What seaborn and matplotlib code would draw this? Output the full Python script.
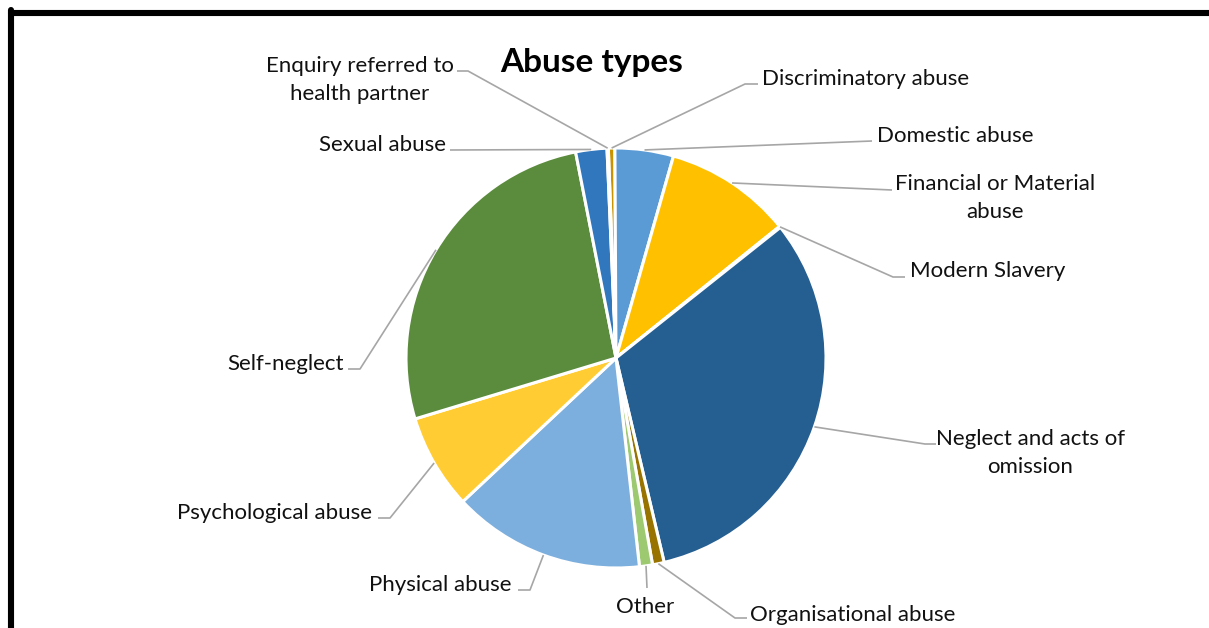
import matplotlib
matplotlib.use("Agg")
import matplotlib.pyplot as plt
import seaborn as sns
import numpy as np
from matplotlib.lines import Line2D

# data (order as in the source sheet, drawn clockwise)
categories = ["Discriminatory abuse", "Domestic abuse", "Financial or Material abuse",
              "Modern Slavery", "Neglect and acts of omission", "Organisational abuse",
              "Other", "Physical abuse", "Psychological abuse", "Self-neglect",
              "Sexual abuse", "Enquiry referred to health partner"]
counts = [5, 45, 98, 1, 320, 9, 10, 148, 73, 266, 24, 1]
label_lines = [["Discriminatory abuse"], ["Domestic abuse"], ["Financial or Material", "abuse"],
               ["Modern Slavery"], ["Neglect and acts of", "omission"], ["Organisational abuse"],
               ["Other"], ["Physical abuse"], ["Psychological abuse"], ["Self-neglect"],
               ["Sexual abuse"], ["Enquiry referred to", "health partner"]]
slice_colors = ["#C99400", "#5B9BD5", "#FFC000", "#A5A5A5", "#255E91", "#997300",
                "#9DC971", "#7CAFDD", "#FFCD33", "#5B8B3C", "#3077BE", "#4472C4"]

# layout in pixels: label anchor (x, baseline y, ha) and leader path after the slice edge
W, H = 1209, 628
CX, CY, R = 616, 358, 210
layout = [
    ((762, 85, "left"), [(745, 84), (758, 84)]),
    ((877, 142, "left"), [(872, 141)]),
    ((995, 190, "center"), [(892, 190)]),
    ((910, 277, "left"), [(893, 277), (905, 277)]),
    ((1030, 445, "center"), [(925, 444), (936, 444)]),
    ((750, 621, "left"), [(735, 618), (747, 618)]),
    ((645, 613, "center"), [(647, 588)]),
    ((512, 591, "right"), [(530, 590), (518, 590)]),
    ((372, 519, "right"), [(390, 518), (378, 518)]),
    ((344, 370, "right"), [(360, 369), (348, 369)]),
    ((446, 151, "right"), [(450, 150)]),
    ((360, 72, "center"), [(468, 71), (457, 71)]),
]
line_gap = 28


def to_data(px, py):
    return (px - CX) / R, (CY - py) / R


sns.set_theme(style="white")
plt.rcParams["font.family"] = ["Lato", "DejaVu Sans"]

fig = plt.figure(figsize=(W / 100, H / 100), dpi=100)
ax = fig.add_axes([0, 0, 1, 1])

wedges, _ = ax.pie(counts, colors=sns.color_palette(slice_colors), startangle=92.1,
                   counterclock=False,
                   wedgeprops=dict(edgecolor="white", linewidth=2.2))
ax.set_xlim(-CX / R, (W - CX) / R)
ax.set_ylim(-(H - CY) / R, CY / R)
ax.set_aspect("auto")
ax.axis("off")

for w, lines, ((tx, ty, ha), path) in zip(wedges, label_lines, layout):
    mid = np.deg2rad((w.theta1 + w.theta2) / 2)
    xs = [np.cos(mid)] + [to_data(*p)[0] for p in path]
    ys = [np.sin(mid)] + [to_data(*p)[1] for p in path]
    ax.plot(xs, ys, color="#A6A6A6", lw=1.2, solid_capstyle="butt")
    for i, line in enumerate(lines):
        x, y = to_data(tx, ty + i * line_gap)
        ax.text(x, y, line, ha=ha, va="baseline", fontsize=16, color="#111111")

tx, ty = to_data(592, 72)
ax.text(tx, ty, "Abuse types", ha="center", va="baseline", fontsize=24,
        fontweight="bold", color="black")

# outer frame (only top and left edges show in the crop)
fig.add_artist(Line2D([11 / W, 1], [1 - 13 / H, 1 - 13 / H], color="black", lw=4.4,
                      transform=fig.transFigure))
fig.add_artist(Line2D([11 / W, 11 / W], [1 - 10 / H, 0], color="black", lw=4.4,
                      transform=fig.transFigure))

fig.savefig("out.png", dpi=100)
